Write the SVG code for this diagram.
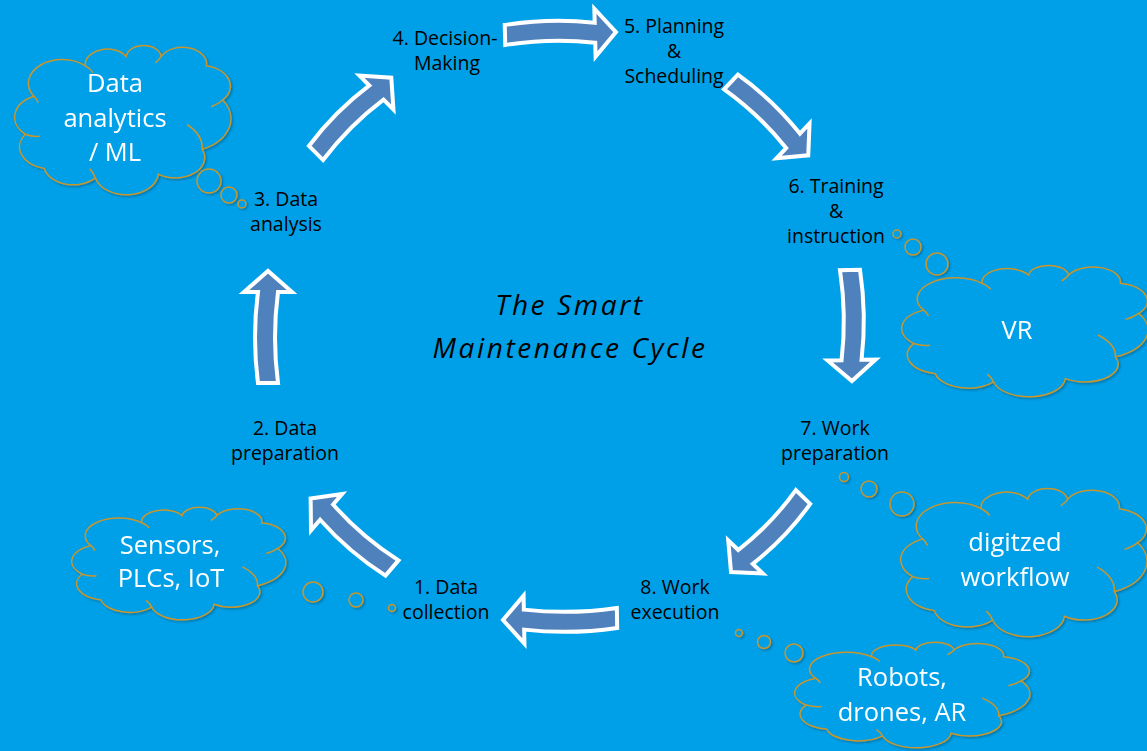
<svg xmlns="http://www.w3.org/2000/svg" xmlns:xlink="http://www.w3.org/1999/xlink" width="1147" height="751" viewBox="0 0 1147 751">
<style>
.bg{fill:#00A0E8}
.lbl{font-family:"Open Sans","Liberation Sans",sans-serif;font-size:19.5px;fill:#000;text-anchor:middle}
.ctext{font-family:"Open Sans","Liberation Sans",sans-serif;font-size:25.5px;fill:#fff;text-anchor:middle}
.title{font-family:"Open Sans","Liberation Sans",sans-serif;font-style:italic;font-size:28px;letter-spacing:2.6px;fill:#000;text-anchor:middle}
.arrow{fill:#4F81BD;stroke:#fff;stroke-width:4;stroke-linejoin:miter}
.cl{fill:#00A0E8;stroke:#C8962E;stroke-width:1.5;vector-effect:non-scaling-stroke}
.cr{fill:none;stroke:#C8962E;stroke-width:1.5;vector-effect:non-scaling-stroke}
.bub{fill:#00A0E8;stroke:#C8962E;stroke-width:1.5}
</style>
<defs>
<filter id="sh" x="-10%" y="-10%" width="130%" height="130%">
<feDropShadow dx="1.5" dy="1.5" stdDeviation="1.2" flood-color="#000" flood-opacity="0.25"/>
</filter>
<g id="cloud">
<path class="cl" d="M8.8,34.2 A15.8,15.8 0 0 1 32.7,13.9 A10.3,10.3 0 0 1 51.7,7.6 A8.2,8.2 0 0 1 68,7.6 A11.2,11.2 0 0 1 89.1,13.9 A13.8,13.8 0 0 1 96.6,36.7 A22.3,22.3 0 0 1 87.1,69.6 A13.6,13.6 0 0 1 66.7,86.1 A14.9,14.9 0 0 1 37.4,88.6 A13.8,13.8 0 0 1 13.6,82.3 A14.7,14.7 0 0 1 4.8,59.5 A15.4,15.4 0 0 1 8.8,34.2 Z"/>
<path class="cr" d="M4.8,59.5 Q8,61.5 11.5,60.8 M32.7,13.9 Q35.2,15.8 36.2,18.5 M68,7.6 Q67,10 65.2,12 M96.6,36.7 Q94.5,39.6 91.2,41.2 M87.1,69.6 Q87.5,60 80,53 M37.4,88.6 Q36.6,85 34.8,82.6 M8.8,34.2 Q10.2,36 10.8,38.6"/>
</g>
</defs>
<rect class="bg" x="0" y="0" width="1147" height="751"/>

<g id="title">
<text class="title" x="570" y="315">The Smart</text>
<text class="title" x="570" y="358">Maintenance Cycle</text>
</g>

<g id="connectors">
<path class="arrow" transform="translate(392,568) rotate(-139.5)" d="M0,-10 Q43,-16 86,-10 L86,-24 L107,0 L86,24 L86,10 Q43,4 0,10 Z"/>
<path class="arrow" transform="translate(268,383) rotate(-90)" d="M0,-10 Q45.5,-16 91,-10 L91,-24 L112,0 L91,24 L91,10 Q45.5,4 0,10 Z"/>
<path class="arrow" transform="translate(316,153) rotate(-45)" d="M0,-10 Q42.75,-16 85.5,-10 L85.5,-24 L106.5,0 L85.5,24 L85.5,10 Q42.75,4 0,10 Z"/>
<path class="arrow" transform="translate(505,35) rotate(-1.5)" d="M0,-10 Q45,-16 90,-10 L90,-24 L111,0 L90,24 L90,10 Q45,4 0,10 Z"/>
<path class="arrow" transform="translate(731,82) rotate(43.5)" d="M0,-10 Q42.75,-16 85.5,-10 L85.5,-24 L106.5,0 L85.5,24 L85.5,10 Q42.75,4 0,10 Z"/>
<path class="arrow" transform="translate(850,270) rotate(89)" d="M0,-10 Q45,-16 90,-10 L90,-24 L111,0 L90,24 L90,10 Q45,4 0,10 Z"/>
<path class="arrow" transform="translate(803,497) rotate(133.8)" d="M0,-10 Q41.5,-16 83,-10 L83,-24 L104,0 L83,24 L83,10 Q41.5,4 0,10 Z"/>
<path class="arrow" transform="translate(617,618) rotate(179)" d="M0,-10 Q46.5,-16 93,-10 L93,-24 L114,0 L93,24 L93,10 Q46.5,4 0,10 Z"/>
</g>

<g id="step1">
<text class="lbl" x="446" y="594">1. Data</text>
<text class="lbl" x="446" y="619">collection</text>
</g>
<g id="step2">
<text class="lbl" x="285" y="435">2. Data</text>
<text class="lbl" x="285" y="460">preparation</text>
</g>
<g id="step3">
<text class="lbl" x="286" y="206">3. Data</text>
<text class="lbl" x="286" y="231">analysis</text>
</g>
<g id="step4">
<text class="lbl" x="445" y="45">4. Decision-</text>
<text class="lbl" x="447" y="70">Making</text>
</g>
<g id="step5">
<text class="lbl" x="674" y="33">5. Planning</text>
<text class="lbl" x="674" y="58">&amp;</text>
<text class="lbl" x="674" y="83">Scheduling</text>
</g>
<g id="step6">
<text class="lbl" x="836" y="193">6. Training</text>
<text class="lbl" x="836" y="218">&amp;</text>
<text class="lbl" x="836" y="243">instruction</text>
</g>
<g id="step7">
<text class="lbl" x="835" y="435">7. Work</text>
<text class="lbl" x="835" y="460">preparation</text>
</g>
<g id="step8">
<text class="lbl" x="675" y="594">8. Work</text>
<text class="lbl" x="675" y="619">execution</text>
</g>

<g id="cloud-analytics" filter="url(#sh)">
<use xlink:href="#cloud" href="#cloud" transform="translate(15,45) scale(2.15,1.5)"/>
<circle class="bub" cx="209" cy="181" r="12"/>
<circle class="bub" cx="229" cy="195" r="8"/>
<circle class="bub" cx="242" cy="204" r="4"/>
<text class="ctext" x="115" y="92">Data</text>
<text class="ctext" x="115" y="127">analytics</text>
<text class="ctext" x="115" y="161">/ ML</text>
</g>
<g id="cloud-vr" filter="url(#sh)">
<use xlink:href="#cloud" href="#cloud" transform="translate(902,265) scale(2.45,1.32)"/>
<circle class="bub" cx="897" cy="234" r="4"/>
<circle class="bub" cx="913" cy="247" r="8"/>
<circle class="bub" cx="937" cy="264" r="11"/>
<text class="ctext" x="1017" y="339">VR</text>
</g>
<g id="cloud-sensors" filter="url(#sh)">
<use xlink:href="#cloud" href="#cloud" transform="translate(72,507) scale(2.13,1.13)"/>
<circle class="bub" cx="313" cy="592" r="10"/>
<circle class="bub" cx="356" cy="600" r="7"/>
<circle class="bub" cx="392" cy="608" r="3.5"/>
<text class="ctext" x="170" y="554">Sensors,</text>
<text class="ctext" x="171" y="587">PLCs, IoT</text>
</g>
<g id="cloud-workflow" filter="url(#sh)">
<use xlink:href="#cloud" href="#cloud" transform="translate(901,488) scale(2.45,1.49)"/>
<circle class="bub" cx="844" cy="477" r="4.5"/>
<circle class="bub" cx="869" cy="489" r="8"/>
<circle class="bub" cx="902" cy="504" r="12"/>
<text class="ctext" x="1015" y="551">digitzed</text>
<text class="ctext" x="1015" y="586">workflow</text>
</g>
<g id="cloud-robots" filter="url(#sh)">
<use xlink:href="#cloud" href="#cloud" transform="translate(795,642) scale(2.34,1.06)"/>
<circle class="bub" cx="739" cy="633" r="3.5"/>
<circle class="bub" cx="764" cy="642" r="6.5"/>
<circle class="bub" cx="794" cy="653" r="9"/>
<text class="ctext" x="902" y="686">Robots,</text>
<text class="ctext" x="902" y="721">drones, AR</text>
</g>
</svg>
